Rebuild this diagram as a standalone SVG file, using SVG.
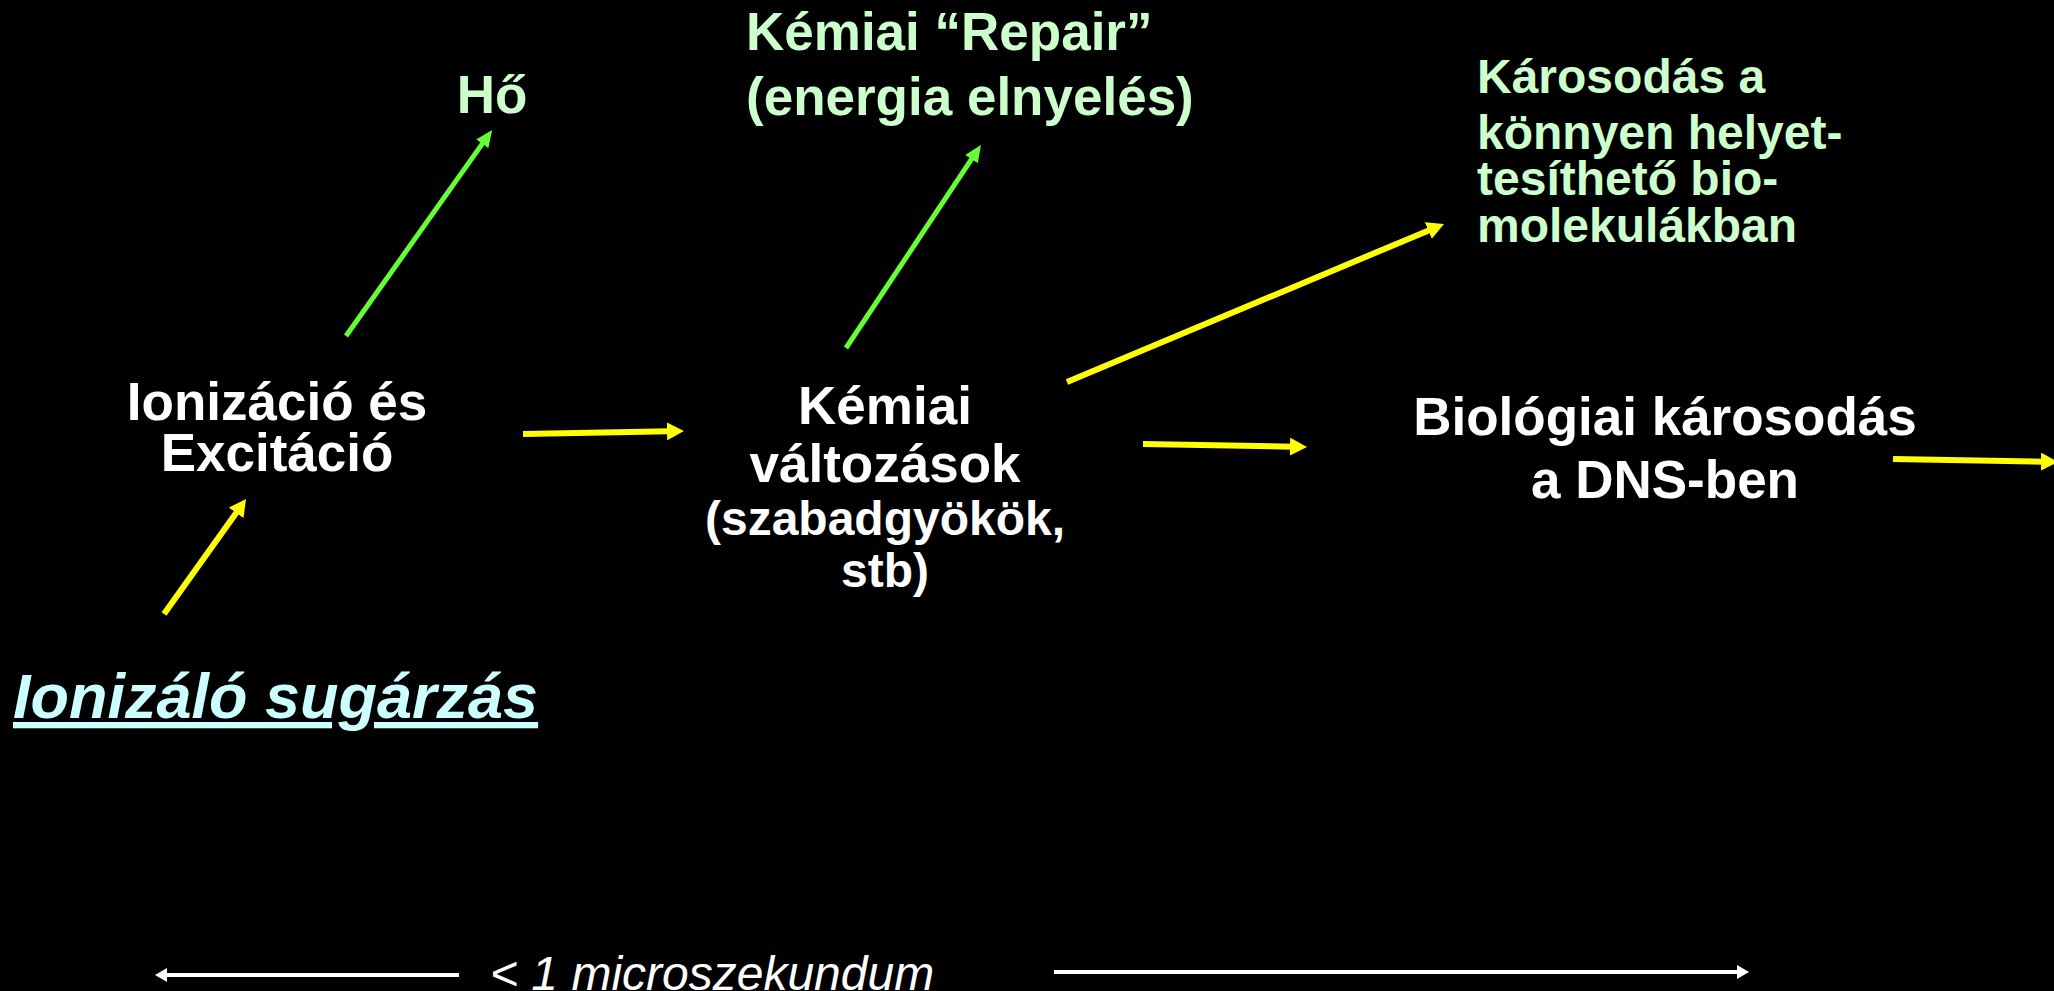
<svg xmlns="http://www.w3.org/2000/svg" width="2054" height="991" viewBox="0 0 2054 991">
<style>
text{font-family:"Liberation Sans",Arial,Helvetica,sans-serif;font-weight:bold}
.w{fill:#FFFFFF}
.g{fill:#CCFFCC}
.c{fill:#CCFFFF}
.big{font-size:53px}
.med{font-size:48px}
.mid{text-anchor:middle}
.ye{stroke:#FFFF00;stroke-width:6;fill:none}
.gr{stroke:#66FF33;stroke-width:5;fill:none}
.wh{stroke:#FFFFFF;stroke-width:4;fill:none}
</style>
<defs>
<marker id="ay" markerUnits="userSpaceOnUse" markerWidth="17" markerHeight="18" refX="3" refY="9" orient="auto"><path d="M0,0 L17,9 L0,18 z" fill="#FFFF00"/></marker>
<marker id="ag" markerUnits="userSpaceOnUse" markerWidth="17" markerHeight="15" refX="3" refY="7.5" orient="auto"><path d="M0,0 L17,7.5 L0,15 z" fill="#66FF33"/></marker>
<marker id="aw" markerUnits="userSpaceOnUse" markerWidth="12" markerHeight="14" refX="2" refY="7" orient="auto"><path d="M0,0 L12,7 L0,14 z" fill="#FFFFFF"/></marker>
</defs>
<rect width="2054" height="991" fill="#000000"/>

<g id="node-ho"><text class="g big mid" x="492" y="113">Hő</text></g>
<g id="node-repair"><text class="g big" x="746" y="50">Kémiai “Repair”</text><text class="g big" x="746" y="115">(energia elnyelés)</text></g>
<g id="node-karosodas"><text class="g med" x="1477" y="93">Károsodás a</text><text class="g med" x="1477" y="149">könnyen helyet-</text><text class="g med" x="1477" y="195">tesíthető bio-</text><text class="g med" x="1477" y="242">molekulákban</text></g>
<g id="node-ionizacio"><text class="w big mid" x="277" y="420">Ionizáció és</text><text class="w big mid" x="277" y="471">Excitáció</text></g>
<g id="node-kemiai"><text class="w big mid" x="885" y="424">Kémiai</text><text class="w big mid" x="885" y="482">változások</text><text class="w med mid" x="885" y="535">(szabadgyökök,</text><text class="w med mid" x="885" y="587">stb)</text></g>
<g id="node-biologiai"><text class="w big mid" x="1665" y="435">Biológiai károsodás</text><text class="w big mid" x="1665" y="498">a DNS-ben</text></g>
<g id="node-sugarzas"><text class="c" x="13" y="718" style="font-size:63px;font-style:italic;text-decoration:underline">Ionizáló sugárzás</text></g>
<g id="node-time"><text class="w" x="490" y="990" style="font-size:48px;font-style:italic;font-weight:normal">&lt; 1 microszekundum</text></g>

<g id="connectors">
<line class="gr" x1="346" y1="336" x2="484" y2="141.4" marker-end="url(#ag)"/>
<line class="gr" x1="846" y1="348" x2="973.2" y2="156.7" marker-end="url(#ag)"/>
<line class="ye" x1="164" y1="614" x2="237.9" y2="510.4" marker-end="url(#ay)"/>
<line class="ye" x1="523" y1="434" x2="670" y2="431.3" marker-end="url(#ay)"/>
<line class="ye" x1="1067" y1="382" x2="1431.1" y2="229.4" marker-end="url(#ay)"/>
<line class="ye" x1="1143" y1="444" x2="1293" y2="446.7" marker-end="url(#ay)"/>
<line class="ye" x1="1893" y1="459" x2="2044" y2="461.7" marker-end="url(#ay)"/>
<line class="wh" x1="459" y1="975" x2="165" y2="975" marker-end="url(#aw)"/>
<line class="wh" x1="1054" y1="972" x2="1739" y2="972" marker-end="url(#aw)"/>
</g>
</svg>
